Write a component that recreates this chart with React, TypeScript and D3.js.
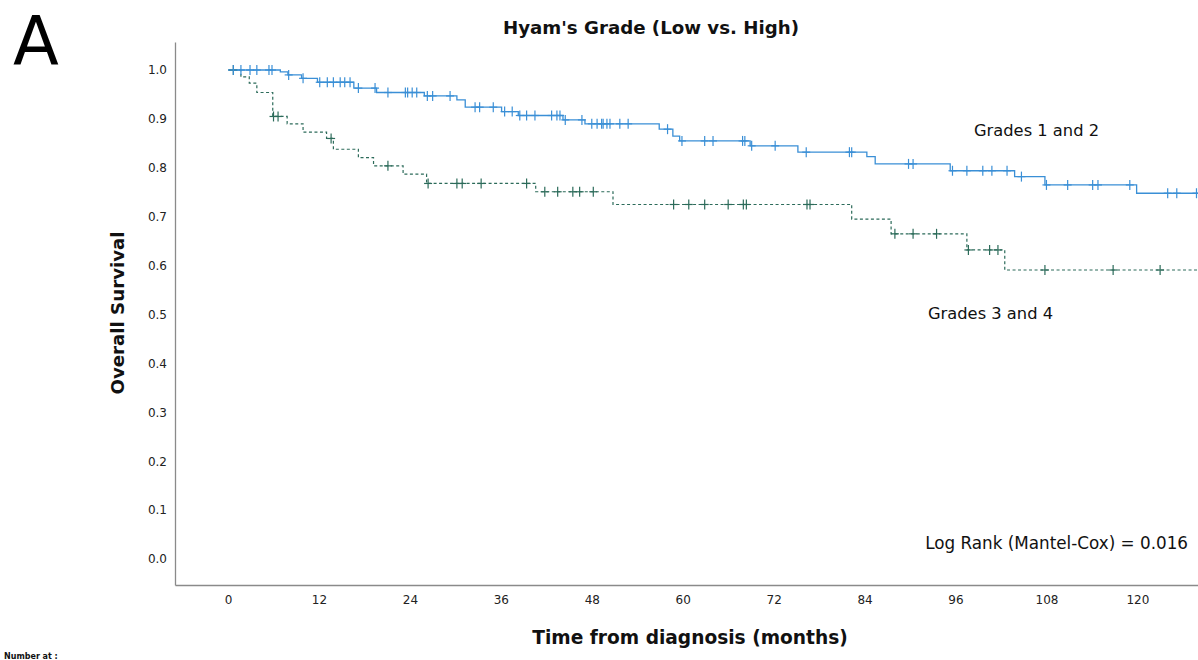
import React, { useEffect, useRef } from 'react';
import * as d3 from 'd3';

// step events: [month, survival after the drop]
const lowSteps: [number, number][] = [
  [6.9, 0.996], [7.9, 0.99], [9.7, 0.983], [11.8, 0.975], [16.6, 0.963],
  [19.6, 0.954], [25.9, 0.947], [30.2, 0.939], [31.3, 0.924], [36.1, 0.915],
  [38.3, 0.907], [44.2, 0.898], [47.1, 0.89], [56.9, 0.879], [58.7, 0.865],
  [59.6, 0.855], [68.9, 0.845], [75.2, 0.832], [84.3, 0.823], [85.4, 0.808],
  [95.3, 0.794], [103.8, 0.782], [107.8, 0.765], [119.9, 0.748]
];
const lowCensored = [
  0.7, 1.7, 2.9, 3.8, 5.4, 5.8, 8.0, 9.9, 12.1, 13.1, 13.9, 14.8, 15.4, 16.1,
  17.2, 19.4, 21.1, 23.4, 23.7, 24.3, 24.9, 26.3, 27, 29.3, 32.6, 33.2, 35,
  36.5, 37.5, 38.5, 39.4, 40.5, 42.7, 43.4, 43.8, 44.5, 46.7, 48, 48.7, 49.3,
  49.5, 50, 50.4, 51.7, 52.8, 58, 59.9, 62.9, 64, 67.9, 68.2, 69.1, 72.2, 76.3,
  82, 82.3, 89.8, 90.4, 95.6, 97.5, 99.6, 100.8, 102.8, 104.7, 108, 110.8,
  114.1, 114.8, 119, 124, 125.2, 127.8
];

const highSteps: [number, number][] = [
  [1.7, 0.986], [2.8, 0.973], [3.8, 0.954], [5.9, 0.905], [7.8, 0.89],
  [9.9, 0.873], [13.0, 0.86], [13.9, 0.838], [17.2, 0.821], [19.2, 0.804],
  [23.1, 0.787], [26.2, 0.768], [40.6, 0.751], [50.8, 0.725], [82.3, 0.695],
  [87.5, 0.665], [97.5, 0.632], [102.5, 0.591]
];
const highCensored = [
  0.7, 6.0, 6.6, 13.6, 21.1, 26.4, 30.2, 30.9, 33.4, 39.4, 41.8, 43.5, 45.5,
  46.4, 48.2, 58.8, 60.8, 62.9, 66, 68, 68.4, 76.4, 76.8, 88, 90.4, 93.5,
  97.7, 100.5, 101.6, 107.8, 116.8, 123
];

const xTicks = [0, 12, 24, 36, 48, 60, 72, 84, 96, 108, 120];
const yTicks = [0, 0.1, 0.2, 0.3, 0.4, 0.5, 0.6, 0.7, 0.8, 0.9, 1.0];

const W = 1198;
const H = 660;
const BLUE = '#3a8fd6';
const GREEN = '#2c6b5a';
const FONT = '"DejaVu Sans", Verdana, sans-serif';

const x = d3.scaleLinear().domain([-7, 128]).range([175, 1198]);
const y = d3.scaleLinear().domain([-0.0532, 1.0573]).range([585, 42]);

function survAt(steps: [number, number][], t: number) {
  let s = 1;
  for (const [m, v] of steps) if (m <= t) s = v;
  return s;
}

function curvePoints(steps: [number, number][]): [number, number][] {
  return [[0, 1] as [number, number], ...steps, [128, steps[steps.length - 1][1]] as [number, number]];
}

const line = d3.line<[number, number]>()
  .x(d => x(d[0]))
  .y(d => y(d[1]))
  .curve(d3.curveStepAfter);

export default function App() {
  const xAxisRef = useRef<SVGGElement>(null);
  const yAxisRef = useRef<SVGGElement>(null);

  useEffect(() => {
    document.body.style.margin = '0';
    const gx = d3.select(xAxisRef.current!);
    gx.selectAll('*').remove();
    gx.call(d3.axisBottom(x).tickValues(xTicks).tickSize(0).tickPadding(10).tickFormat(d3.format('d')));
    gx.select('.domain').attr('stroke', '#8a8a8a').attr('stroke-width', 1.3);
    gx.selectAll('text').attr('font-family', FONT).attr('font-size', 12).attr('fill', '#222');

    const gy = d3.select(yAxisRef.current!);
    gy.selectAll('*').remove();
    gy.call(d3.axisLeft(y).tickValues(yTicks).tickSize(0).tickPadding(8).tickFormat(d3.format('.1f')));
    gy.select('.domain').attr('stroke', '#8a8a8a').attr('stroke-width', 1.3);
    gy.selectAll('text').attr('font-family', FONT).attr('font-size', 12).attr('fill', '#222');
  }, []);

  const censorMarks = (times: number[], steps: [number, number][], color: string) =>
    times.map((t, i) => {
      const cx = x(t);
      const cy = y(survAt(steps, t));
      return (
        <g key={i} stroke={color} strokeWidth={1.2}>
          <line x1={cx} x2={cx} y1={cy - 5} y2={cy + 5} />
          <line x1={cx - 4} x2={cx + 4} y1={cy} y2={cy} />
        </g>
      );
    });

  return (
    <svg width={W} height={H} style={{ display: 'block', background: '#fff' }}>
      <text x={13} y={65} fontFamily={FONT} fontSize={67} fill="#000">A</text>
      <text x={651} y={34} textAnchor="middle" fontFamily={FONT} fontWeight="bold" fontSize={18.2} fill="#111">
        Hyam's Grade (Low vs. High)
      </text>

      <g ref={xAxisRef} transform="translate(0,585)" />
      <g ref={yAxisRef} transform="translate(175,0)" />

      <path d={line(curvePoints(highSteps)) || ''} fill="none" stroke={GREEN} strokeWidth={1.2} strokeDasharray="3,2.5" />
      <path d={line(curvePoints(lowSteps)) || ''} fill="none" stroke={BLUE} strokeWidth={1.3} />
      {censorMarks(highCensored, highSteps, GREEN)}
      {censorMarks(lowCensored, lowSteps, BLUE)}

      <text x={974} y={136} fontFamily={FONT} fontSize={16.3} fill="#111">Grades 1 and 2</text>
      <text x={928} y={319} fontFamily={FONT} fontSize={16.3} fill="#111">Grades 3 and 4</text>
      <text x={1188} y={549} textAnchor="end" fontFamily={FONT} fontSize={16.8} fill="#111">
        Log Rank (Mantel-Cox) = 0.016
      </text>

      <text transform="translate(124,313) rotate(-90)" textAnchor="middle" fontFamily={FONT} fontWeight="bold" fontSize={18.2} fill="#111">
        Overall Survival
      </text>
      <text x={690} y={644} textAnchor="middle" fontFamily={FONT} fontWeight="bold" fontSize={18.6} fill="#111">
        Time from diagnosis (months)
      </text>
      <text x={4} y={659} fontFamily={FONT} fontWeight="bold" fontSize={8} fill="#111">Number at :</text>
    </svg>
  );
}
